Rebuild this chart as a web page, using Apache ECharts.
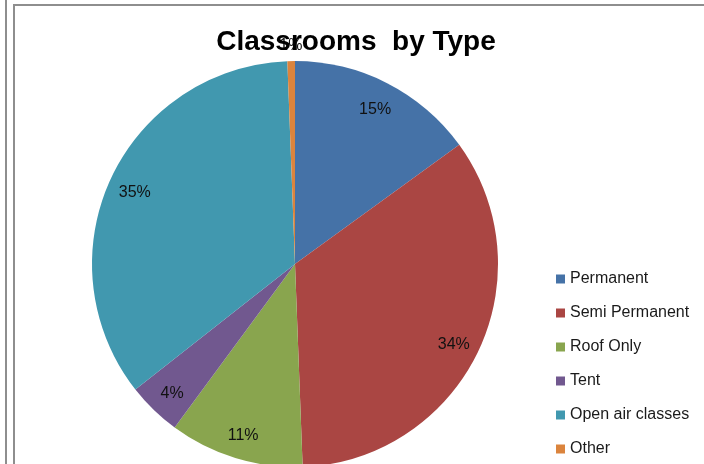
<!DOCTYPE html>
<html>
<head>
<meta charset="utf-8">
<script src="https://cdn.jsdelivr.net/npm/echarts@6/dist/echarts.min.js"></script>
<style>
html,body{margin:0;padding:0;background:#fff;}
#chart{width:704px;height:464px;}
</style>
</head>
<body>
<div id="chart"></div>
<script>
var categories = ['Permanent', 'Semi Permanent', 'Roof Only', 'Tent', 'Open air classes', 'Other'];
var values = [15.0, 34.4, 10.7, 4.3, 35.0, 0.6];
var colors = ['#4572A7', '#AA4643', '#89A54E', '#71588F', '#4198AF', '#DB843D'];
var titleText = 'Classrooms  by Type';

var chart = echarts.init(document.getElementById('chart'), null, {renderer: 'canvas'});
var pieData = categories.map(function (c, i) {
  return {name: c, value: values[i], itemStyle: {color: colors[i]}};
});
var insideData = categories.map(function (c, i) {
  return {name: c, value: values[i], label: {show: c !== 'Other'}};
});
var outerData = categories.map(function (c, i) {
  return {name: c, value: values[i], label: {show: c === 'Other'}};
});
var fmt = function (p) { return Math.round(p.percent) + '%'; };
var labelStyle = {
  position: 'inside',
  formatter: fmt,
  offset: [0, 3],
  fontFamily: 'Liberation Sans',
  fontSize: 16,
  color: '#111'
};

chart.setOption({
  animation: false,
  title: {
    text: titleText,
    left: 351,
    textAlign: 'center',
    top: 23,
    textStyle: {fontFamily: 'Liberation Sans', fontWeight: 'bold', fontSize: 28, color: '#000'}
  },
  legend: {
    orient: 'vertical',
    left: 556,
    top: 271,
    height: 193,
    padding: 0,
    itemWidth: 9,
    itemHeight: 9,
    itemGap: 18,
    icon: 'rect',
    selectedMode: false,
    data: categories,
    textStyle: {fontFamily: 'Liberation Sans', fontSize: 16, color: '#1a1a1a'}
  },
  graphic: [
    {type: 'line', shape: {x1: 6, y1: 0, x2: 6, y2: 464}, style: {stroke: '#8e8e8e', lineWidth: 2}},
    {type: 'line', shape: {x1: 14, y1: 5, x2: 14, y2: 464}, style: {stroke: '#8e8e8e', lineWidth: 2}},
    {type: 'line', shape: {x1: 13, y1: 5, x2: 704, y2: 5}, style: {stroke: '#8e8e8e', lineWidth: 2}}
  ],
  series: [
    {
      type: 'pie',
      center: [295, 264],
      radius: [0, 203],
      startAngle: 90,
      clockwise: true,
      silent: true,
      label: {show: false},
      labelLine: {show: false},
      data: pieData
    },
    {
      type: 'pie',
      center: [295, 264],
      radius: [144, 203],
      startAngle: 90,
      silent: true,
      itemStyle: {color: 'rgba(0,0,0,0)'},
      label: labelStyle,
      labelLine: {show: false},
      data: insideData
    },
    {
      type: 'pie',
      center: [295, 264],
      radius: [201, 235],
      startAngle: 90,
      silent: true,
      itemStyle: {color: 'rgba(0,0,0,0)'},
      label: labelStyle,
      labelLine: {show: false},
      data: outerData
    }
  ]
});
</script>
</body>
</html>
